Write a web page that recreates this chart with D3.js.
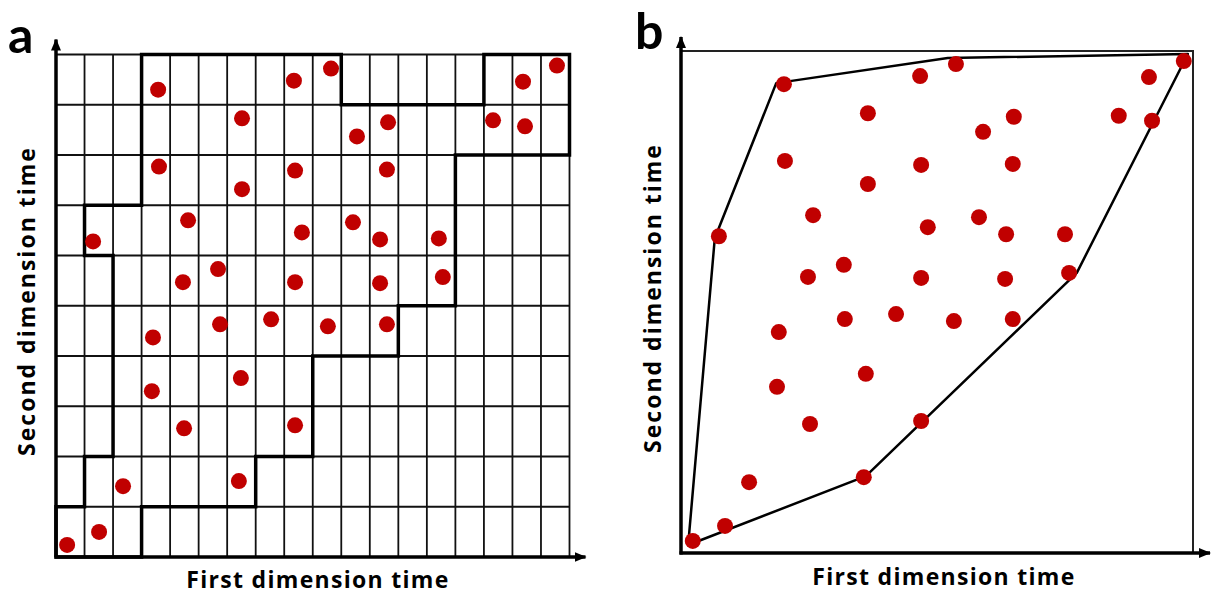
<!DOCTYPE html>
<html>
<head>
<meta charset="utf-8">
<script src="https://cdn.jsdelivr.net/npm/d3@7"></script>
<style>
body { margin: 0; background: white; }
text { font-family: "Open Sans", Lato, sans-serif; font-weight: bold; fill: black; }
text.panel { font-family: Lato, "Open Sans", sans-serif; }
</style>
</head>
<body>
<svg id="chart" width="1211" height="594"></svg>
<script>
// ---- panel a : grid of cells, dots and the warping window ----
let gridCols = 18;
let gridRows = 10;

// dot positions in cell units (x = column, y = row from bottom)
let dotsAX = [3.58, 6.52, 8.34, 3.61, 8.38, 6.52, 9.64, 16.37, 17.56, 10.55, 11.64, 15.32, 16.44,
              11.60, 1.30, 4.63, 8.62, 4.45, 5.68, 8.38, 3.40, 5.75, 7.54, 6.48, 10.41, 11.36,
              13.42, 11.36, 13.56, 9.53, 11.60, 3.36, 4.49, 8.38, 2.35, 6.41, 0.39, 1.51];
let dotsAY = [9.30, 8.73, 9.48, 7.77, 7.69, 7.32, 9.72, 9.46, 9.78, 8.37, 8.65, 8.69, 8.57,
              7.71, 6.28, 6.70, 6.46, 5.47, 5.73, 5.47, 4.37, 4.63, 4.73, 3.56, 6.66, 6.32,
              6.34, 5.45, 5.57, 4.59, 4.63, 3.30, 2.56, 2.62, 1.41, 1.51, 0.24, 0.50];

// outline of the window, corners in cell units
let windowA = [[0,1],[1,1],[1,2],[2,2],[2,6],[1,6],[1,7],[3,7],[3,10],[10,10],[10,9],[15,9],
               [15,10],[18,10],[18,8],[14,8],[14,5],[12,5],[12,4],[9,4],[9,2],[7,2],[7,1],
               [3,1],[3,0],[0,0]];

// ---- panel b : free points and their hull ----
let dotsBX = [20.1, 36.5, 20.3, 36.5, 46.7, 53.7, 98.2, 91.4, 65.0, 59.0, 85.5, 92.0, 46.9,
              64.8, 7.4, 25.8, 24.8, 31.8, 32.0, 42.0, 19.1, 36.1, 46.9, 48.2, 58.2, 63.5,
              75.0, 63.3, 75.8, 53.3, 64.8, 18.75, 25.2, 13.3, 35.7, 8.6, 2.3, 46.9];
let dotsBY = [93.4, 87.6, 78.1, 73.5, 95.0, 97.4, 98.0, 94.8, 86.9, 83.9, 87.1, 86.1, 77.3,
              77.5, 63.1, 67.3, 55.0, 57.4, 46.6, 47.6, 44.0, 35.7, 54.8, 64.9, 66.9, 63.5,
              63.5, 54.6, 55.8, 46.2, 46.6, 33.1, 25.7, 14.1, 15.1, 5.4, 2.4, 26.3];
let hullB = [[1.4,1.6],[6.6,62.7],[18.6,93.6],[52.1,98.6],[99.0,99.4],[77.3,55.8],[36.1,15.3]];

let dotColor = "#c00000";

let svg = d3.select('#chart');

let defs = svg.append("defs");
defs.append("marker")
    .attr("id", "arrow")
    .attr("viewBox", "0 0 12 10")
    .attr("refX", 11)
    .attr("refY", 5)
    .attr("markerUnits", "userSpaceOnUse")
    .attr("markerWidth", 12)
    .attr("markerHeight", 10)
    .attr("orient", "auto")
    .append("path")
    .attr("d", "M0,0L12,5L0,10Z")
    .attr("fill", "black");

drawPanelA(svg.append("g").attr("class", "panelA"));
drawPanelB(svg.append("g").attr("class", "panelB"));


function addTitles(g, xPos, yPos)
{
    g.append("text")
        .attr("x", xPos[0]).attr("y", xPos[1])
        .attr("text-anchor", "middle")
        .attr("font-size", 23)
        .attr("letter-spacing", 1.3)
        .text("First dimension time");

    g.append("text")
        .attr("transform", "translate(" + yPos[0] + ", " + yPos[1] + ") rotate(-90)")
        .attr("text-anchor", "middle")
        .attr("font-size", 23)
        .attr("letter-spacing", 2)
        .text("Second dimension time");
}


function drawPanelA(g)
{
    let x = d3.scaleLinear().domain([0, gridCols]).range([56, 569.5]);
    let y = d3.scaleLinear().domain([0, gridRows]).range([557, 54.5]);

    // grid lines
    g.selectAll("line.col")
        .data(d3.range(1, gridCols + 1))
        .enter().append("line")
        .attr("class", "col")
        .attr("x1", d => x(d)).attr("x2", d => x(d))
        .attr("y1", y(0)).attr("y2", y(gridRows))
        .attr("stroke", "#111").attr("stroke-width", 1.8);

    g.selectAll("line.row")
        .data(d3.range(1, gridRows + 1))
        .enter().append("line")
        .attr("class", "row")
        .attr("x1", x(0)).attr("x2", x(gridCols))
        .attr("y1", d => y(d)).attr("y2", d => y(d))
        .attr("stroke", "#111").attr("stroke-width", 1.8);

    // window outline
    let line = d3.line().x(d => x(d[0])).y(d => y(d[1]));
    g.append("path")
        .attr("d", line(windowA) + "Z")
        .attr("fill", "none")
        .attr("stroke", "black")
        .attr("stroke-width", 3.5)
        .attr("stroke-linejoin", "miter");

    // axes with arrows
    g.append("line")
        .attr("x1", x(0)).attr("y1", y(0))
        .attr("x2", x(0)).attr("y2", y(gridRows) - 15)
        .attr("stroke", "black").attr("stroke-width", 3.5)
        .attr("marker-end", "url(#arrow)");
    g.append("line")
        .attr("x1", x(0) - 1.5).attr("y1", y(0))
        .attr("x2", x(gridCols) + 16).attr("y2", y(0))
        .attr("stroke", "black").attr("stroke-width", 3.5)
        .attr("marker-end", "url(#arrow)");

    // dots
    g.selectAll("circle")
        .data(dotsAX)
        .enter().append("circle")
        .attr("cx", d => x(d))
        .attr("cy", (d, i) => y(dotsAY[i]))
        .attr("r", 8)
        .attr("fill", dotColor);

    g.append("text")
        .attr("class", "panel")
        .attr("x", 8).attr("y", 53)
        .attr("font-size", 50)
        .text("a");

    addTitles(g, [318, 588], [35, 301]);
}


function drawPanelB(g)
{
    let x = d3.scaleLinear().domain([0, 100]).range([681, 1193]);
    let y = d3.scaleLinear().domain([0, 100]).range([553, 51]);

    // frame (top and right)
    g.append("path")
        .attr("d", "M" + x(0) + "," + y(100) + "H" + x(100) + "V" + y(0))
        .attr("fill", "none")
        .attr("stroke", "#222")
        .attr("stroke-width", 2);

    // hull
    let line = d3.line().x(d => x(d[0])).y(d => y(d[1]));
    g.append("path")
        .attr("d", line(hullB) + "Z")
        .attr("fill", "none")
        .attr("stroke", "black")
        .attr("stroke-width", 2.5)
        .attr("stroke-linejoin", "round");

    // axes with arrows
    g.append("line")
        .attr("x1", x(0)).attr("y1", y(0) + 1.5)
        .attr("x2", x(0)).attr("y2", 37)
        .attr("stroke", "black").attr("stroke-width", 3.5)
        .attr("marker-end", "url(#arrow)");
    g.append("line")
        .attr("x1", x(0) - 1.5).attr("y1", y(0))
        .attr("x2", 1210).attr("y2", y(0))
        .attr("stroke", "black").attr("stroke-width", 3.5)
        .attr("marker-end", "url(#arrow)");

    g.selectAll("circle")
        .data(dotsBX)
        .enter().append("circle")
        .attr("cx", d => x(d))
        .attr("cy", (d, i) => y(dotsBY[i]))
        .attr("r", 8)
        .attr("fill", dotColor);

    g.append("text")
        .attr("class", "panel")
        .attr("x", 635).attr("y", 49)
        .attr("font-size", 50)
        .text("b");

    addTitles(g, [944, 585], [661, 298]);
}
</script>
</body>
</html>
